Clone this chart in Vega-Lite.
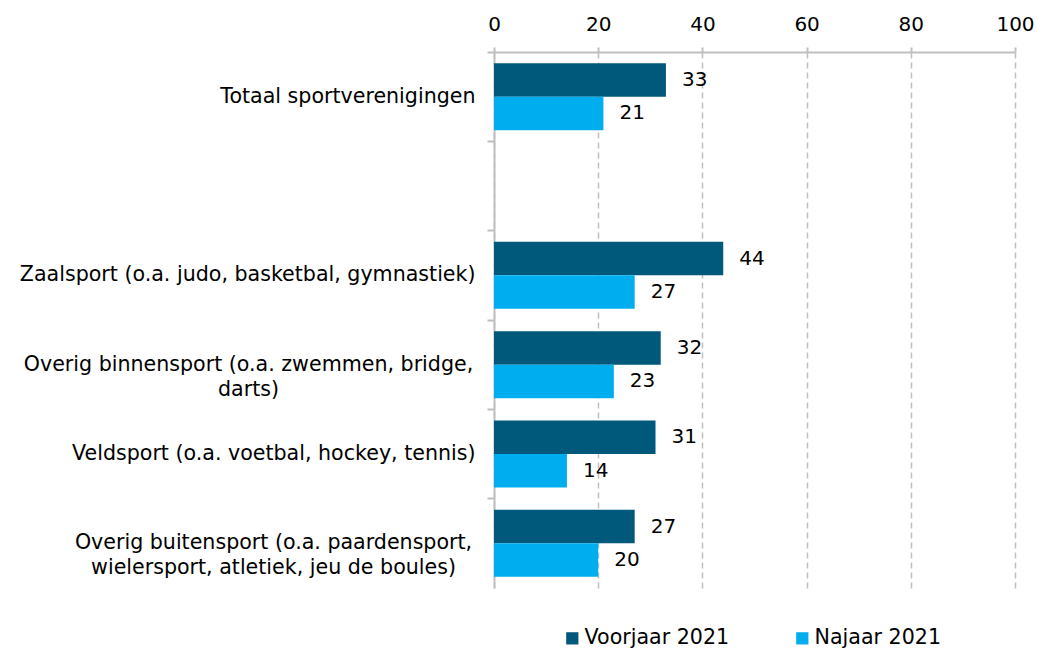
{
  "$schema": "https://vega.github.io/schema/vega-lite/v6.json",
  "autosize": {"type": "none"},
  "padding": {"left": 494, "top": 52, "right": 23, "bottom": 64},
  "width": 521,
  "height": 536,
  "background": "white",
  "config": {
    "view": {"stroke": null},
    "font": "DejaVu Sans",
    "axis": {"labelFont": "DejaVu Sans", "labelColor": "#000000"},
    "legend": {"labelFont": "DejaVu Sans"}
  },
  "data": {
    "values": [
      {"category": "Totaal sportverenigingen", "period": "Voorjaar 2021", "value": 33},
      {"category": "Totaal sportverenigingen", "period": "Najaar 2021", "value": 21},
      {"category": "Zaalsport (o.a. judo, basketbal, gymnastiek)", "period": "Voorjaar 2021", "value": 44},
      {"category": "Zaalsport (o.a. judo, basketbal, gymnastiek)", "period": "Najaar 2021", "value": 27},
      {"category": "Overig binnensport (o.a. zwemmen, bridge,|darts)", "period": "Voorjaar 2021", "value": 32},
      {"category": "Overig binnensport (o.a. zwemmen, bridge,|darts)", "period": "Najaar 2021", "value": 23},
      {"category": "Veldsport (o.a. voetbal, hockey, tennis)", "period": "Voorjaar 2021", "value": 31},
      {"category": "Veldsport (o.a. voetbal, hockey, tennis)", "period": "Najaar 2021", "value": 14},
      {"category": "Overig buitensport (o.a. paardensport,|wielersport, atletiek, jeu de boules)", "period": "Voorjaar 2021", "value": 27},
      {"category": "Overig buitensport (o.a. paardensport,|wielersport, atletiek, jeu de boules)", "period": "Najaar 2021", "value": 20}
    ]
  },
  "encoding": {
    "y": {
      "field": "category",
      "type": "nominal",
      "scale": {
        "domain": [
          "Totaal sportverenigingen",
          " ",
          "Zaalsport (o.a. judo, basketbal, gymnastiek)",
          "Overig binnensport (o.a. zwemmen, bridge,|darts)",
          "Veldsport (o.a. voetbal, hockey, tennis)",
          "Overig buitensport (o.a. paardensport,|wielersport, atletiek, jeu de boules)"
        ],
        "paddingInner": 0,
        "paddingOuter": 0
      },
      "axis": {
        "title": null,
        "bandPosition": 0,
        "labelBound": false,
        "labelLimit": 0,
        "domainColor": "#BFBFBF",
        "domainWidth": 2,
        "tickColor": "#BFBFBF",
        "tickWidth": 2,
        "tickSize": 7,
        "labelFontSize": 20.6,
        "labelLineHeight": 25,
        "labelExpr": "split(datum.label, '|')",
        "labelAlign": {"condition": {"test": "indexof(datum.value, '|') >= 0", "value": "center"}, "value": "right"},
        "labelPadding": {
          "condition": [
            {"test": "indexof(datum.value, 'binnensport') >= 0", "value": 239},
            {"test": "indexof(datum.value, 'buitensport') >= 0", "value": 214}
          ],
          "value": 12
        },
        "labelBaseline": "middle"
      }
    },
    "yOffset": {
      "field": "period",
      "type": "nominal",
      "sort": ["Voorjaar 2021", "Najaar 2021"],
      "scale": {"paddingInner": 0, "paddingOuter": 0.333}
    }
  },
  "layer": [
    {
      "mark": {"type": "bar"},
      "encoding": {
        "x": {
          "field": "value",
          "type": "quantitative",
          "scale": {"domain": [0, 100]},
          "axis": {
            "orient": "top",
            "title": null,
            "values": [0, 20, 40, 60, 80, 100],
            "labelFontSize": 20,
            "labelPadding": 13,
            "labelFlush": false,
            "labelBound": false,
            "domainColor": "#BFBFBF",
            "domainWidth": 2,
            "tickColor": "#BFBFBF",
            "tickWidth": 2,
            "tickSize": 5,
            "grid": true,
            "gridColor": "#BFBFBF",
            "gridWidth": 1.5,
            "gridDash": [6, 4]
          }
        },
        "color": {
          "field": "period",
          "type": "nominal",
          "sort": ["Voorjaar 2021", "Najaar 2021"],
          "scale": {"domain": ["Voorjaar 2021", "Najaar 2021"], "range": ["#00587A", "#00AEEF"]},
          "legend": {
            "title": null,
            "orient": "none",
            "direction": "horizontal",
            "legendX": 68,
            "legendY": 576,
            "symbolType": "square",
            "symbolSize": 150,
            "symbolStrokeWidth": 0,
            "labelFontSize": 20.6,
            "labelOffset": 2,
            "labelLimit": 0,
            "columnPadding": 62,
            "labelColor": "#000000"
          }
        }
      }
    },
    {
      "mark": {"type": "text", "align": "left", "baseline": "middle", "dx": 16, "fontSize": 20, "color": "#000000"},
      "encoding": {
        "x": {"field": "value", "type": "quantitative"},
        "text": {"field": "value", "type": "quantitative"}
      }
    }
  ]
}
